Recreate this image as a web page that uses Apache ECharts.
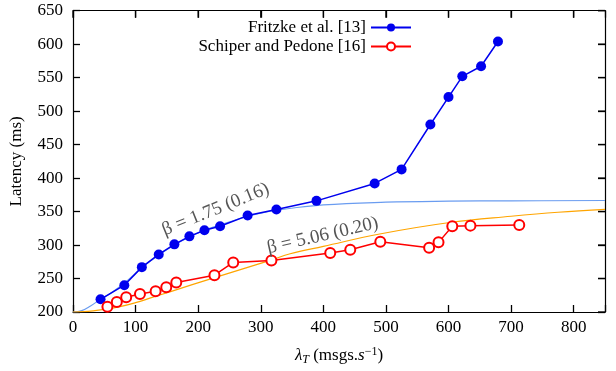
<!DOCTYPE html>
<html><head><meta charset="utf-8">
<script src="https://cdn.jsdelivr.net/npm/echarts@6/dist/echarts.min.js"></script>
<style>html,body{margin:0;padding:0;background:#fff}#c{width:616px;height:371px}</style>
</head><body><div id="c"></div>
<script>
const xTicks = [0,100,200,300,400,500,600,700,800];
const yTicks = [200,250,300,350,400,450,500,550,600,650];

const fritzkeX = [44,82,110,137,162,186,210,235,279,325,389,482,525,571,600,622,652,679];
const fritzkeY = [219,240,267,286,301,313,322,328,344,353,366,392,413,480,521,552,567,604];

const schiperX = [55,70,85,107,132,149,165,226,256,317,411,443,491,569,584,606,635,713];
const schiperY = [208,215,222,227,231,237,244,255,274,277,288,293,305,296,304,328,329,330];

const fitBlueX = [0,14,28,44,60,82,110,137,162,186,210,235,280,325,400,500,600,700,850];
const fitBlueY = [200,202,209,219,228,243,266,285,300,312,322,330,343,352,360,364,365.5,366,366.5];

const fitOrangeX = [0,17,50,75,100,124,156,225,315,347,400,490,605,700,775,850];
const fitOrangeY = [200,200.5,204,208,214,221,230.5,251,277,287,298,316.5,334,343,349,353.4];

const labelBlue = {text:'β = 1.75 (0.16)', x:228, y:353};
const labelOrange = {text:'β = 5.06 (0.20)', x:399, y:314};

const xMin = 0, xMax = 850, yMin = 200, yMax = 650;
const zip = (a,b)=>a.map((v,i)=>[v,b[i]]);
const serif = 'Liberation Serif';
const TL = 7;
const chart = echarts.init(document.getElementById('c'));
const axisTick = () => ({show:true, inside:true, length:TL, lineStyle:{color:'#000', width:1.3}});
const tickStyle = {stroke:'#000', lineWidth:1.3, fill:null};
function xTickRender(params, api){
  const v = api.value(0);
  const t = api.coord([v, yMax]);
  return {type:'line', shape:{x1:t[0], y1:t[1], x2:t[0], y2:t[1]+TL}, style:tickStyle};
}
function yTickRender(params, api){
  const v = api.value(1);
  const r = api.coord([xMax, v]);
  return {type:'line', shape:{x1:r[0], y1:r[1], x2:r[0]-TL, y2:r[1]}, style:tickStyle};
}
chart.setOption({
  animation:false,
  textStyle:{fontFamily:serif},
  grid:{left:72.5, right:11, top:10.7, bottom:55.3},
  legend:{
    orient:'vertical', right:199, top:14, align:'right', itemWidth:40, itemHeight:10, itemGap:2,
    textStyle:{fontFamily:serif, fontSize:17, color:'#000'},
    data:['Fritzke et al. [13]','Schiper and Pedone [16]']
  },
  xAxis:[{
    type:'value', min:xMin, max:xMax, interval:100,
    axisLine:{onZero:false, lineStyle:{color:'#000', width:1.2}},
    axisTick:axisTick(),
    axisLabel:{formatter:v=>xTicks.includes(v)?String(v):'', color:'#000', fontSize:17, fontFamily:serif, margin:7},
    splitLine:{show:false},
    name:'{i|λ}{sub|T} (msgs.{i|s}{sup|−1})', nameLocation:'middle', nameGap:34,
    nameTextStyle:{color:'#000', fontSize:17, fontFamily:serif, rich:{
      i:{fontStyle:'italic', fontSize:17, fontFamily:serif},
      sub:{fontStyle:'italic', fontSize:12, verticalAlign:'bottom', padding:[6,0,0,0], fontFamily:serif},
      sup:{fontSize:12, verticalAlign:'top', padding:[0,0,8,0], fontFamily:serif}
    }}
  },{
    type:'value', min:xMin, max:xMax, interval:100, position:'top',
    axisLine:{show:true, onZero:false, lineStyle:{color:'#000', width:1.2}},
    axisTick:axisTick(), axisLabel:{show:false}, splitLine:{show:false}
  }],
  yAxis:[{
    type:'value', min:yMin, max:yMax, interval:50,
    axisLine:{show:true, onZero:false, lineStyle:{color:'#000', width:1.2}},
    axisTick:axisTick(),
    axisLabel:{formatter:v=>yTicks.includes(v)?String(v):'', color:'#000', fontSize:17, fontFamily:serif, margin:10},
    splitLine:{show:false},
    name:'Latency (ms)', nameLocation:'middle', nameGap:48, nameRotate:90,
    nameTextStyle:{color:'#000', fontSize:17, fontFamily:serif}
  },{
    type:'value', min:yMin, max:yMax, interval:50, position:'right',
    axisLine:{show:true, onZero:false, lineStyle:{color:'#000', width:1.2}},
    axisTick:axisTick(), axisLabel:{show:false}, splitLine:{show:false}
  }],
  series:[
    {type:'custom', name:'xticks', data:xTicks.map(v=>[v, yMax]), renderItem:xTickRender, silent:true, clip:false, z:5},
    {type:'custom', name:'yticks', data:yTicks.map(v=>[xMax, v]), renderItem:yTickRender, silent:true, clip:false, z:5},
    {type:'line', name:'fitBlue', data:zip(fitBlueX,fitBlueY), smooth:0.4, symbol:'none',
     lineStyle:{color:'#6a9cf0', width:1.2}, z:1,
     markPoint:{symbol:'circle', symbolSize:0, silent:true, data:[{coord:[labelBlue.x,labelBlue.y],
       label:{show:true, formatter:labelBlue.text, rotate:22, color:'#555', fontSize:19, fontFamily:serif, position:'inside'}}]}},
    {type:'line', name:'fitOrange', data:zip(fitOrangeX,fitOrangeY), smooth:0.4, symbol:'none',
     lineStyle:{color:'#ffa500', width:1.2}, z:1,
     markPoint:{symbol:'circle', symbolSize:0, silent:true, data:[{coord:[labelOrange.x,labelOrange.y],
       label:{show:true, formatter:labelOrange.text, rotate:13, color:'#555', fontSize:19, fontFamily:serif, position:'inside'}}]}},
    {type:'line', name:'Fritzke et al. [13]', data:zip(fritzkeX,fritzkeY), symbol:'circle', symbolSize:10,
     lineStyle:{color:'#0000ee', width:1.5}, itemStyle:{color:'#0000ee', borderWidth:0}, z:3},
    {type:'line', name:'Schiper and Pedone [16]', data:zip(schiperX,schiperY), symbol:'emptyCircle', symbolSize:10,
     lineStyle:{color:'#ff0000', width:1.5}, itemStyle:{color:'#ff0000', borderColor:'#ff0000', borderWidth:1.2}, z:3}
  ]
});
</script></body></html>
